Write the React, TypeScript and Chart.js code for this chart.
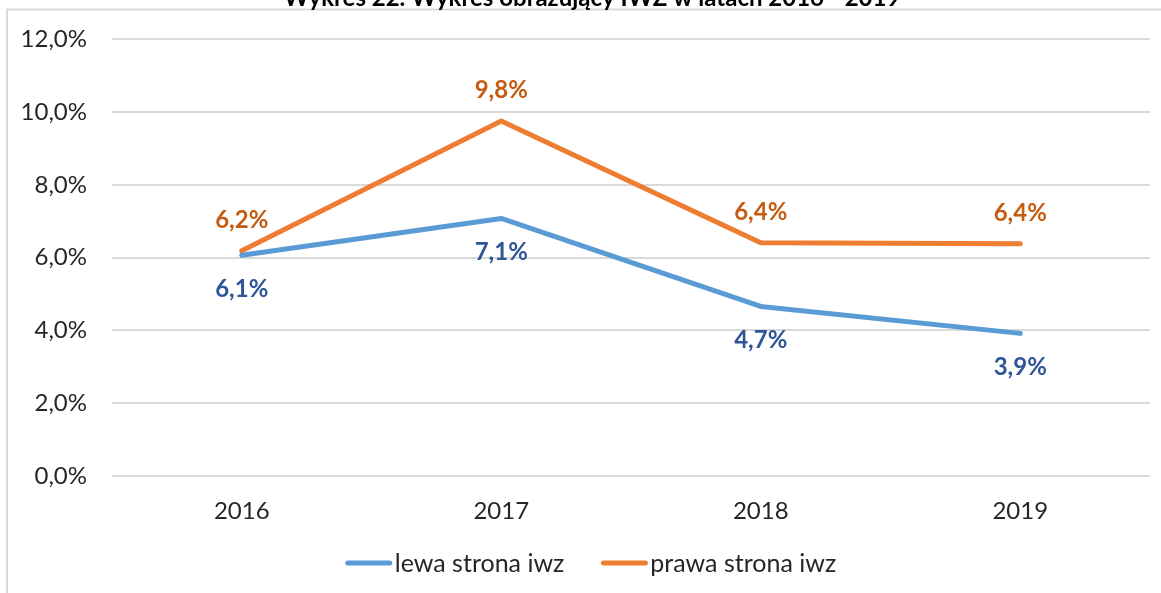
import React, { useEffect, useRef } from "react";
import { Chart, registerables } from "chart.js";

Chart.register(...registerables);

const TITLE = "Wykres 22. Wykres obrazujący IWZ w latach 2016 - 2019";
const categories = ["2016", "2017", "2018", "2019"];
const seriesNames = ["lewa strona iwz", "prawa strona iwz"];
const lewaValues = [6.07, 7.08, 4.66, 3.92];
const prawaValues = [6.19, 9.76, 6.41, 6.38];
const yTicks = [0, 2, 4, 6, 8, 10, 12];

const FONT = "Lato, 'Open Sans', sans-serif";
const lineColors = ["#5B9BD5", "#ED7D31"];
const labelColors = ["#2F5597", "#C55A11"];
const labelOffsets = [34, -31];

const fmt = (v: number) => v.toFixed(1).replace(".", ",") + "%";

const decorPlugin = {
  id: "decor",
  beforeDraw(chart: any) {
    const ctx = chart.ctx;
    ctx.save();
    ctx.fillStyle = "#ffffff";
    ctx.fillRect(0, 0, chart.width, chart.height);
    ctx.strokeStyle = "#D9D9D9";
    ctx.lineWidth = 2;
    ctx.beginPath();
    ctx.moveTo(7, chart.height);
    ctx.lineTo(7, 9.5);
    ctx.lineTo(chart.width, 9.5);
    ctx.stroke();
    ctx.fillStyle = "#000000";
    ctx.font = "bold 24px " + FONT;
    ctx.textAlign = "center";
    ctx.textBaseline = "alphabetic";
    ctx.fillText(TITLE, 592, 6);
    ctx.restore();
  },
  afterDatasetsDraw(chart: any) {
    const ctx = chart.ctx;
    ctx.save();
    ctx.font = "bold 24px " + FONT;
    ctx.textAlign = "center";
    ctx.textBaseline = "middle";
    chart.data.datasets.forEach((ds: any, i: number) => {
      const meta = chart.getDatasetMeta(i);
      ctx.fillStyle = labelColors[i];
      meta.data.forEach((pt: any, j: number) => {
        ctx.fillText(fmt(ds.data[j]), pt.x, pt.y + labelOffsets[i]);
      });
    });
    ctx.restore();
  },
  afterDraw(chart: any) {
    const ctx = chart.ctx;
    ctx.save();
    ctx.font = "25px " + FONT;
    ctx.textBaseline = "middle";
    ctx.textAlign = "left";
    const lineLen = 46;
    const gap = 3;
    const itemGap = 37;
    const items = chart.data.datasets.map((ds: any) => ({
      text: ds.label,
      color: ds.borderColor,
      w: lineLen + gap + ctx.measureText(ds.label).width,
    }));
    const total = items.reduce((s: number, it: any) => s + it.w, 0) + itemGap * (items.length - 1);
    let x = 591 - total / 2;
    const y = 563;
    items.forEach((it: any) => {
      ctx.strokeStyle = it.color;
      ctx.lineWidth = 5;
      ctx.lineCap = "round";
      ctx.beginPath();
      ctx.moveTo(x + 2, y);
      ctx.lineTo(x + lineLen - 2, y);
      ctx.stroke();
      ctx.fillStyle = "#262626";
      ctx.fillText(it.text, x + lineLen + gap, y + 1);
      x += it.w + itemGap;
    });
    ctx.restore();
  },
};

export default function App() {
  const ref = useRef<HTMLCanvasElement>(null);
  useEffect(() => {
    if (!ref.current) return;
    const chart = new Chart(ref.current, {
      type: "line",
      data: {
        labels: categories,
        datasets: [
          {
            label: seriesNames[0],
            data: lewaValues,
            borderColor: lineColors[0],
            backgroundColor: lineColors[0],
            borderWidth: 5,
            borderCapStyle: "round",
            borderJoinStyle: "round",
            pointRadius: 0,
            tension: 0,
          },
          {
            label: seriesNames[1],
            data: prawaValues,
            borderColor: lineColors[1],
            backgroundColor: lineColors[1],
            borderWidth: 5,
            borderCapStyle: "round",
            borderJoinStyle: "round",
            pointRadius: 0,
            tension: 0,
          },
        ],
      },
      options: {
        responsive: false,
        animation: false,
        devicePixelRatio: 1,
        layout: { padding: { left: 0, top: 38, right: 11, bottom: 0 } },
        plugins: {
          legend: { display: false },
          title: { display: false },
          tooltip: { enabled: false },
        },
        scales: {
          x: {
            offset: true,
            grid: { display: false, drawTicks: false },
            border: { display: false },
            ticks: {
              color: "#262626",
              font: { family: FONT, size: 24 },
              padding: 21,
            },
            afterFit: (s: any) => {
              s.height = 117;
            },
          },
          y: {
            min: 0,
            max: 12,
            afterBuildTicks: (s: any) => {
              s.ticks = yTicks.map((v) => ({ value: v }));
            },
            grid: { color: "#D9D9D9", lineWidth: 2, drawTicks: false },
            border: { display: false },
            ticks: {
              color: "#262626",
              font: { family: FONT, size: 24 },
              padding: 25,
              callback: (v: any) => fmt(Number(v)),
            },
            afterFit: (s: any) => {
              s.width = 112;
            },
          },
        },
      },
      plugins: [decorPlugin],
    });
    return () => chart.destroy();
  }, []);
  return (
    <div style={{ position: "fixed", left: 0, top: 0, width: 1161, height: 593, overflow: "hidden", background: "#fff" }}>
      <canvas ref={ref} width={1161} height={593} style={{ display: "block", width: 1161, height: 593 }} />
    </div>
  );
}
